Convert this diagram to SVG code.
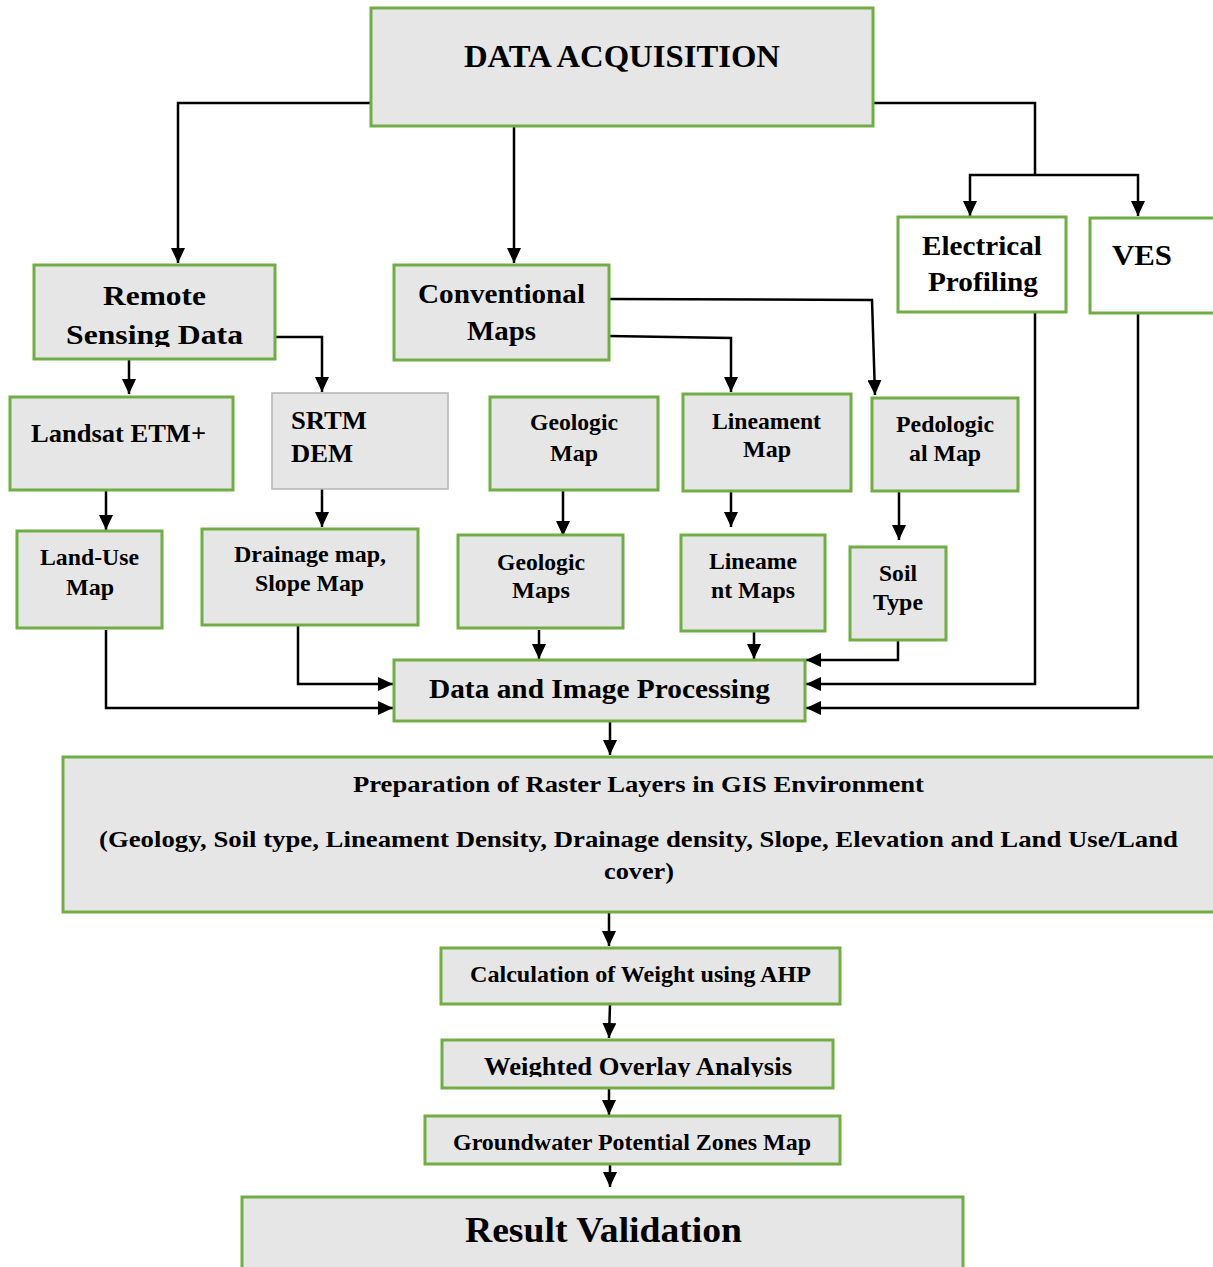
<svg xmlns="http://www.w3.org/2000/svg" width="1213" height="1267" viewBox="0 0 1213 1267">
<style>
.b{fill:#e7e6e6;stroke:#70ad47;stroke-width:3}
.w{fill:#ffffff;stroke:#70ad47;stroke-width:3}
.g{fill:#e7e6e6;stroke:#b4b4b4;stroke-width:1.5}
text{font-family:"Liberation Serif","Times New Roman",serif;font-weight:bold;fill:#000;text-anchor:middle}
.c{fill:none;stroke:#000;stroke-width:2.5}
</style>
<defs>
<marker id="ah" markerUnits="userSpaceOnUse" markerWidth="16" markerHeight="14" viewBox="0 0 16 14" refX="15" refY="7" orient="auto">
<path d="M0,0 L15,7 L0,14 z" fill="#000"/>
</marker>
<clipPath id="clipRS"><rect x="34" y="265" width="241" height="82"/></clipPath>
<clipPath id="clipWO"><rect x="442" y="1040" width="391" height="37"/></clipPath>
</defs>

<g id="connectors">
<path class="c" d="M371,103 H178 V263" marker-end="url(#ah)"/>
<path class="c" d="M514,126 V263" marker-end="url(#ah)"/>
<path class="c" d="M872,103 H1035 V175"/>
<path class="c" d="M1035,175 H970 V216" marker-end="url(#ah)"/>
<path class="c" d="M1035,175 H1138 V216" marker-end="url(#ah)"/>
<path class="c" d="M129,359 V394" marker-end="url(#ah)"/>
<path class="c" d="M275,337 H322 V392" marker-end="url(#ah)"/>
<path class="c" d="M609,336 L731,338 V392" marker-end="url(#ah)"/>
<path class="c" d="M609,299 L872,300 L875,395" marker-end="url(#ah)"/>
<path class="c" d="M106,489 V530" marker-end="url(#ah)"/>
<path class="c" d="M322,489 V527" marker-end="url(#ah)"/>
<path class="c" d="M563,489 V536" marker-end="url(#ah)"/>
<path class="c" d="M731,491 V527" marker-end="url(#ah)"/>
<path class="c" d="M899,491 V540" marker-end="url(#ah)"/>
<path class="c" d="M539,630 V659" marker-end="url(#ah)"/>
<path class="c" d="M754,631 V659" marker-end="url(#ah)"/>
<path class="c" d="M898,640 V660 H806" marker-end="url(#ah)"/>
<path class="c" d="M1035,312 V684 H806" marker-end="url(#ah)"/>
<path class="c" d="M1138,313 V708 H806" marker-end="url(#ah)"/>
<path class="c" d="M298,624 V684 H393" marker-end="url(#ah)"/>
<path class="c" d="M106,630 V708 H393" marker-end="url(#ah)"/>
<path class="c" d="M610,721 V755" marker-end="url(#ah)"/>
<path class="c" d="M609,912 V946" marker-end="url(#ah)"/>
<path class="c" d="M610,1004 L609,1038" marker-end="url(#ah)"/>
<path class="c" d="M609,1088 V1115" marker-end="url(#ah)"/>
<path class="c" d="M610,1164 V1187" marker-end="url(#ah)"/>
</g>

<g id="data-acquisition">
<rect class="b" x="371" y="8" width="502" height="118"/>
<text x="622" y="67" font-size="31" textLength="316" lengthAdjust="spacingAndGlyphs">DATA ACQUISITION</text>
</g>
<g id="remote-sensing">
<rect class="b" x="34" y="265" width="241" height="94"/>
<text x="154.5" y="305" font-size="28" textLength="103" lengthAdjust="spacingAndGlyphs">Remote</text>
<text x="154.5" y="344" font-size="28" textLength="177" lengthAdjust="spacingAndGlyphs" clip-path="url(#clipRS)">Sensing Data</text>
</g>
<g id="conventional-maps">
<rect class="b" x="394" y="265" width="215" height="95"/>
<text x="501.5" y="303" font-size="28" textLength="167" lengthAdjust="spacingAndGlyphs">Conventional</text>
<text x="501.5" y="340" font-size="28" textLength="69" lengthAdjust="spacingAndGlyphs">Maps</text>
</g>
<g id="electrical-profiling">
<rect class="w" x="898" y="217" width="168" height="95"/>
<text x="982" y="255" font-size="28" textLength="120" lengthAdjust="spacingAndGlyphs">Electrical</text>
<text x="983" y="291" font-size="28" textLength="110" lengthAdjust="spacingAndGlyphs">Profiling</text>
</g>
<g id="ves">
<rect class="w" x="1090" y="218" width="140" height="95"/>
<text x="1142" y="265" font-size="30" textLength="60" lengthAdjust="spacingAndGlyphs">VES</text>
</g>
<g id="landsat">
<rect class="b" x="10" y="397" width="223" height="93"/>
<text x="118.5" y="442" font-size="25" textLength="175" lengthAdjust="spacingAndGlyphs">Landsat ETM+</text>
</g>
<g id="srtm-dem">
<rect class="g" x="272" y="393" width="176" height="96"/>
<text x="291" y="429" font-size="25" style="text-anchor:start" textLength="76" lengthAdjust="spacingAndGlyphs">SRTM</text>
<text x="291" y="462" font-size="25" style="text-anchor:start" textLength="62" lengthAdjust="spacingAndGlyphs">DEM</text>
</g>
<g id="geologic-map">
<rect class="b" x="490" y="397" width="168" height="93"/>
<text x="574" y="430" font-size="24" textLength="88" lengthAdjust="spacingAndGlyphs">Geologic</text>
<text x="574" y="461" font-size="24" textLength="48" lengthAdjust="spacingAndGlyphs">Map</text>
</g>
<g id="lineament-map">
<rect class="b" x="683" y="394" width="168" height="97"/>
<text x="766.5" y="429" font-size="24" textLength="109" lengthAdjust="spacingAndGlyphs">Lineament</text>
<text x="767" y="457" font-size="24" textLength="48" lengthAdjust="spacingAndGlyphs">Map</text>
</g>
<g id="pedological-map">
<rect class="b" x="872" y="398" width="146" height="93"/>
<text x="945" y="432" font-size="24" textLength="98" lengthAdjust="spacingAndGlyphs">Pedologic</text>
<text x="945" y="461" font-size="24" textLength="72" lengthAdjust="spacingAndGlyphs">al Map</text>
</g>
<g id="land-use-map">
<rect class="b" x="17" y="531" width="145" height="97"/>
<text x="89.5" y="565" font-size="24" textLength="99" lengthAdjust="spacingAndGlyphs">Land-Use</text>
<text x="90" y="595" font-size="24" textLength="48" lengthAdjust="spacingAndGlyphs">Map</text>
</g>
<g id="drainage-slope">
<rect class="b" x="202" y="529" width="216" height="96"/>
<text x="310" y="562" font-size="23" textLength="152" lengthAdjust="spacingAndGlyphs">Drainage map,</text>
<text x="309.5" y="591" font-size="23" textLength="109" lengthAdjust="spacingAndGlyphs">Slope Map</text>
</g>
<g id="geologic-maps">
<rect class="b" x="458" y="535" width="165" height="93"/>
<text x="541" y="570" font-size="24" textLength="88" lengthAdjust="spacingAndGlyphs">Geologic</text>
<text x="541" y="598" font-size="24" textLength="58" lengthAdjust="spacingAndGlyphs">Maps</text>
</g>
<g id="lineament-maps">
<rect class="b" x="681" y="535" width="144" height="96"/>
<text x="753" y="569" font-size="24" textLength="88" lengthAdjust="spacingAndGlyphs">Lineame</text>
<text x="753" y="598" font-size="24" textLength="84" lengthAdjust="spacingAndGlyphs">nt Maps</text>
</g>
<g id="soil-type">
<rect class="b" x="850" y="547" width="96" height="93"/>
<text x="898" y="581" font-size="24" textLength="38" lengthAdjust="spacingAndGlyphs">Soil</text>
<text x="898" y="610" font-size="24" textLength="50" lengthAdjust="spacingAndGlyphs">Type</text>
</g>
<g id="data-image-processing">
<rect class="b" x="394" y="660" width="411" height="61"/>
<text x="599.5" y="698" font-size="28" textLength="341" lengthAdjust="spacingAndGlyphs">Data and Image Processing</text>
</g>
<g id="raster-layers">
<rect class="b" x="63" y="757" width="1165" height="155"/>
<text x="638.5" y="792" font-size="24" textLength="571" lengthAdjust="spacingAndGlyphs">Preparation of Raster Layers in GIS Environment</text>
<text x="638.5" y="847" font-size="24" textLength="1079" lengthAdjust="spacingAndGlyphs">(Geology, Soil type, Lineament Density, Drainage density, Slope, Elevation and Land Use/Land</text>
<text x="639" y="879" font-size="24" textLength="70" lengthAdjust="spacingAndGlyphs">cover)</text>
</g>
<g id="ahp-weight">
<rect class="b" x="441" y="948" width="399" height="56"/>
<text x="640.5" y="982" font-size="23" textLength="341" lengthAdjust="spacingAndGlyphs">Calculation of Weight using AHP</text>
</g>
<g id="weighted-overlay">
<rect class="b" x="442" y="1040" width="391" height="48"/>
<text x="638" y="1075" font-size="25" textLength="308" lengthAdjust="spacingAndGlyphs" clip-path="url(#clipWO)">Weighted Overlay Analysis</text>
</g>
<g id="groundwater-zones">
<rect class="b" x="425" y="1116" width="415" height="48"/>
<text x="632" y="1150" font-size="23" textLength="358" lengthAdjust="spacingAndGlyphs">Groundwater Potential Zones Map</text>
</g>
<g id="result-validation">
<rect class="b" x="242" y="1197" width="721" height="85"/>
<text x="603.5" y="1242" font-size="36" textLength="277" lengthAdjust="spacingAndGlyphs">Result Validation</text>
</g>
</svg>
